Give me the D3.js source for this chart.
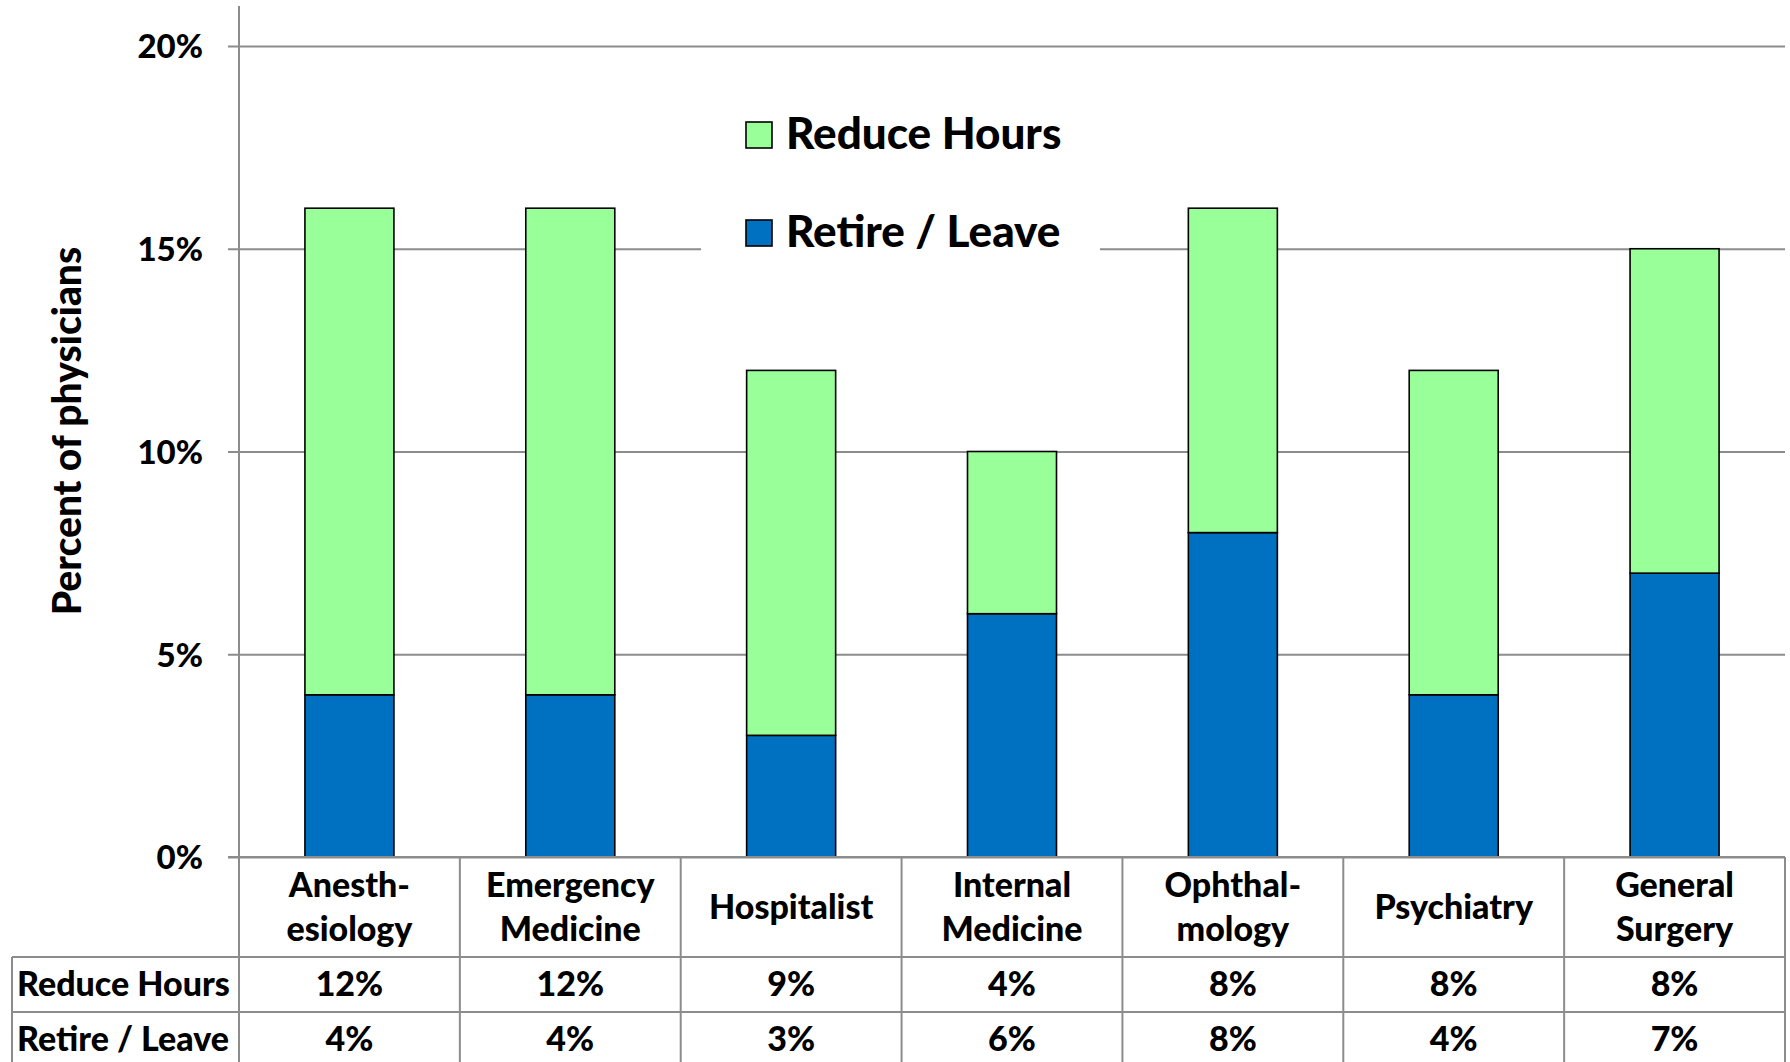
<!DOCTYPE html>
<html>
<head>
<meta charset="utf-8">
<script src="https://cdn.jsdelivr.net/npm/d3@7"></script>
<style>
  html, body { margin: 0; padding: 0; background: #fff; }
  svg { display: block; font-family: Lato, "Open Sans", sans-serif; font-weight: 900; }
</style>
</head>
<body>
<svg id="chart" width="1790" height="1062"></svg>
<script>
// ---- data ----
const categories = [
  ["Anesth-", "esiology"],
  ["Emergency", "Medicine"],
  ["Hospitalist"],
  ["Internal", "Medicine"],
  ["Ophthal-", "mology"],
  ["Psychiatry"],
  ["General", "Surgery"]
];
const seriesNames = ["Reduce Hours", "Retire / Leave"];
const reduceHours = [12, 12, 9, 4, 8, 8, 8];
const retireLeave = [4, 4, 3, 6, 8, 4, 7];
const yTicks = [0, 5, 10, 15, 20];
const yTitle = "Percent of physicians";

// ---- layout ----
const W = 1790, H = 1062;
const plotLeft = 239, plotRight = 1785, plotTop = 46, plotBottom = 857;
const tableLeft = 12;
const catRowBottom = 957, row1Bottom = 1012, row2Bottom = 1066;
const colors = { reduce: "#99FF99", retire: "#0070C0" };
const gridColor = "#8c8c8c";
const FW = 900;

const svg = d3.select("#chart");

const keys = categories.map((c, i) => i);
const x = d3.scaleBand().domain(keys).range([plotLeft, plotRight]).paddingInner(0.597).paddingOuter(0.2985);
const xCol = d3.scaleBand().domain(keys).range([plotLeft, plotRight]);
const y = d3.scaleLinear().domain([0, 20]).range([plotBottom, plotTop]);

// gridlines + tick labels
const yAxis = d3.axisLeft(y).tickValues(yTicks).tickSize(-(plotRight - plotLeft)).tickSizeOuter(0)
  .tickFormat(d => d + "%").tickPadding(36);
const gy = svg.append("g").attr("transform", `translate(${plotLeft},0)`).call(yAxis);
gy.select(".domain").remove();
gy.selectAll(".tick line").attr("stroke", gridColor).attr("stroke-width", 2).attr("x1", -11);
gy.selectAll(".tick text").attr("font-size", 33).attr("font-weight", FW).attr("fill", "#000")
  .attr("font-family", "Lato, sans-serif").attr("dy", "0.36em");

// legend background (masks gridline)
svg.append("rect").attr("x", 701).attr("y", 95).attr("width", 399).attr("height", 170).attr("fill", "#fff");

// y axis line
svg.append("line").attr("x1", plotLeft).attr("x2", plotLeft).attr("y1", 6).attr("y2", H)
  .attr("stroke", gridColor).attr("stroke-width", 2);

// stacked bars
const stackData = keys.map(i => ({ i, retire: retireLeave[i], reduce: reduceHours[i] }));
const stack = d3.stack().keys(["retire", "reduce"]);
const series = stack(stackData);
svg.append("g").selectAll("g").data(series).join("g")
  .attr("fill", s => colors[s.key])
  .selectAll("rect").data(s => s).join("rect")
  .attr("x", d => x(d.data.i))
  .attr("width", x.bandwidth())
  .attr("y", d => y(d[1]))
  .attr("height", d => y(d[0]) - y(d[1]))
  .attr("stroke", "#000").attr("stroke-width", 1.6);

// legend
const legendItems = [
  { name: seriesNames[0], color: colors.reduce, y: 149 },
  { name: seriesNames[1], color: colors.retire, y: 247 }
];
const lg = svg.append("g").selectAll("g").data(legendItems).join("g");
lg.append("rect").attr("x", 746).attr("y", d => d.y - 27).attr("width", 26).attr("height", 26)
  .attr("fill", d => d.color).attr("stroke", "#000").attr("stroke-width", 1.6);
lg.append("text").attr("x", 786).attr("y", d => d.y).attr("font-size", 44).attr("fill", "#000")
  .text(d => d.name);

// y title
svg.append("text").attr("transform", "translate(81,431) rotate(-90)").attr("text-anchor", "middle")
  .attr("font-size", 39).attr("fill", "#000").text(yTitle);

// ---- data table ----
const tg = svg.append("g");
const tline = (x1, y1, x2, y2) => tg.append("line").attr("x1", x1).attr("y1", y1).attr("x2", x2).attr("y2", y2)
  .attr("stroke", gridColor).attr("stroke-width", 2);
tline(plotLeft - 11, plotBottom, plotRight, plotBottom);
tline(tableLeft, catRowBottom, plotRight, catRowBottom);
tline(tableLeft, row1Bottom, plotRight, row1Bottom);
tline(tableLeft, row2Bottom, plotRight, row2Bottom);
tline(tableLeft, catRowBottom, tableLeft, row2Bottom);
keys.forEach(i => tline(xCol(i) + xCol.bandwidth(), plotBottom, xCol(i) + xCol.bandwidth(), row2Bottom));

// category labels
const catG = tg.append("g").selectAll("text").data(keys).join("text")
  .attr("x", i => xCol(i) + xCol.bandwidth() / 2)
  .attr("text-anchor", "middle").attr("font-size", 34).attr("fill", "#000");
catG.each(function(i) {
  const lines = categories[i];
  const t = d3.select(this);
  const mid = (plotBottom + catRowBottom) / 2;
  const lh = 44;
  const first = mid + 12 - (lines.length - 1) * lh / 2;
  lines.forEach((l, k) => t.append("tspan").attr("x", xCol(i) + xCol.bandwidth() / 2).attr("y", first + k * lh).text(l));
});

// row labels + values
const rows = [
  { name: seriesNames[0], vals: reduceHours, top: catRowBottom, bottom: row1Bottom },
  { name: seriesNames[1], vals: retireLeave, top: row1Bottom, bottom: row2Bottom }
];
rows.forEach(r => {
  const by = (r.top + r.bottom) / 2 + 11.5;
  tg.append("text").attr("x", 17).attr("y", by).attr("font-size", 34).attr("fill", "#000").text(r.name);
  tg.append("g").selectAll("text").data(keys).join("text")
    .attr("x", i => xCol(i) + xCol.bandwidth() / 2).attr("y", by)
    .attr("text-anchor", "middle").attr("font-size", 34).attr("fill", "#000")
    .text(i => r.vals[i] + "%");
});
</script>
</body>
</html>
